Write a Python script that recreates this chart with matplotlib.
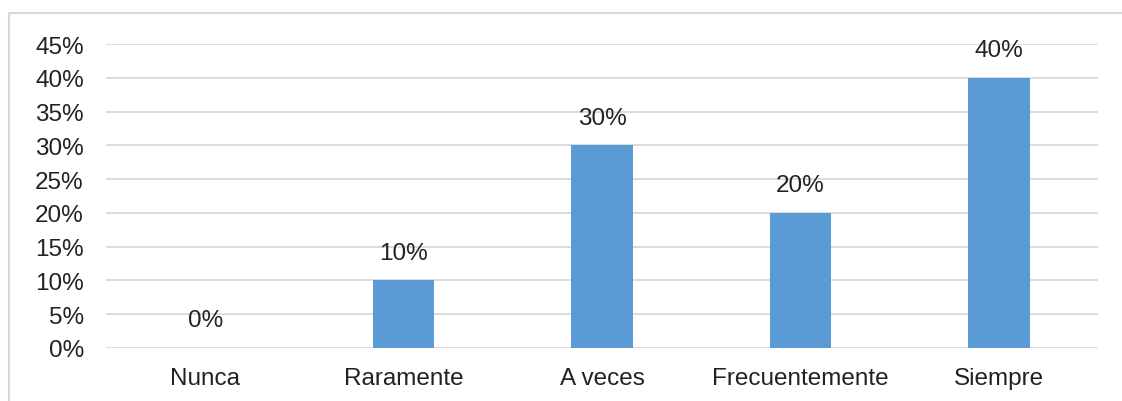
import matplotlib
matplotlib.use("Agg")
import matplotlib.pyplot as plt
from matplotlib.patches import Rectangle
from matplotlib.ticker import FuncFormatter, MultipleLocator

categories = ["Nunca", "Raramente", "A veces", "Frecuentemente", "Siempre"]
values = [0, 10, 30, 20, 40]
value_labels = ["0%", "10%", "30%", "20%", "40%"]

plt.rcParams['font.family'] = ['Liberation Sans', 'DejaVu Sans']

fig = plt.figure(figsize=(11.22, 4.02), dpi=100)
fig.patch.set_facecolor('white')

# chart border (top & left visible)
fig.add_artist(Rectangle((9/1122, -0.1), 1.2, 1.1 - 14/402, transform=fig.transFigure,
                         fill=False, edgecolor='#d9d9d9', linewidth=1.5))

ax = fig.add_axes([106/1122, 1 - 349/402, (1098-106)/1122, (349-45)/402])
x = list(range(len(categories)))
ax.bar(x, values, width=0.31, color='#5B9BD5', zorder=3)
ax.set_xlim(-0.5, len(categories) - 0.5)
ax.set_ylim(0, 45)
ax.yaxis.set_major_locator(MultipleLocator(5))
ax.yaxis.set_major_formatter(FuncFormatter(lambda v, p: f"{int(round(v))}%"))
ax.grid(axis='y', color='#d9d9d9', linewidth=1.3, zorder=0)
for s in ax.spines.values():
    s.set_visible(False)
ax.tick_params(axis='both', length=0, labelsize=17.5, colors='#222222')
ax.tick_params(axis='y', pad=16)
ax.tick_params(axis='x', pad=14)
ax.set_xticks(x)
ax.set_xticklabels(categories)

for xi, v, lab in zip(x, values, value_labels):
    ax.annotate(lab, (xi, v), xytext=(0, 12), textcoords='offset points',
                ha='center', va='bottom', fontsize=17.5, color='#222222')

fig.savefig('out.png', dpi=100, facecolor='white')
